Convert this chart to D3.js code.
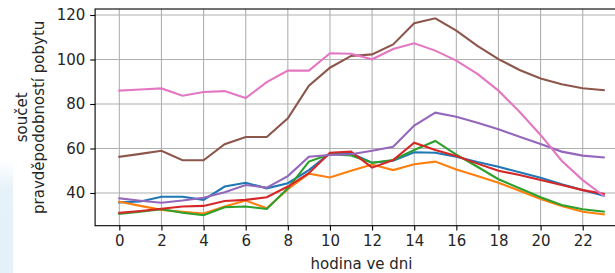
<!DOCTYPE html>
<html>
<head>
<meta charset="utf-8">
<script src="https://d3js.org/d3.v7.min.js"></script>
<style>
  body { margin: 0; background: #fff; }
  svg { display: block; font-family: "DejaVu Sans", sans-serif; }
</style>
</head>
<body>
<svg id="chart" width="615" height="273"></svg>
<script>
// hours of the day
var hours = d3.range(0, 24);
var xTicks = [0, 2, 4, 6, 8, 10, 12, 14, 16, 18, 20, 22];
var yTicks = [40, 60, 80, 100, 120];

// series values (one per hour)
var blue   = [35.8, 36.2, 38.3, 38.3, 36.9, 42.9, 44.6, 42.1, 44.4, 50.3, 57.8, 57.8, 53.6, 54.5, 58.3, 58.1, 56.3, 53.9, 51.8, 49.3, 46.9, 43.9, 41.3, 38.8];
var orange = [36.1, 34.2, 32.4, 31.6, 30.8, 33.9, 36.6, 33.1, 41.7, 48.7, 47.0, 50.0, 52.8, 50.3, 52.9, 54.1, 50.6, 47.6, 44.6, 41.0, 37.3, 34.2, 31.6, 30.4];
var green  = [30.6, 31.6, 32.7, 31.1, 30.0, 33.6, 33.9, 32.8, 42.1, 54.1, 57.4, 56.9, 53.6, 54.8, 59.3, 63.4, 57.2, 51.8, 46.2, 42.1, 38.1, 34.6, 32.7, 31.6];
var red    = [31.1, 31.9, 32.9, 33.9, 34.2, 36.4, 36.9, 38.1, 42.9, 48.9, 58.1, 58.6, 51.4, 54.8, 62.6, 59.3, 56.6, 53.2, 50.0, 48.1, 45.8, 43.6, 41.3, 39.6];
var purple = [37.6, 36.5, 35.6, 36.6, 37.9, 40.3, 43.6, 42.4, 47.6, 56.3, 57.1, 57.4, 59.0, 60.8, 70.3, 76.1, 74.3, 71.6, 68.6, 65.3, 62.0, 58.6, 56.8, 56.0];
var brown  = [56.3, 57.6, 59.0, 54.7, 54.7, 61.9, 65.2, 65.2, 73.6, 88.2, 96.3, 101.6, 102.3, 106.8, 116.3, 118.5, 113.0, 106.1, 100.2, 95.3, 91.5, 88.9, 87.1, 86.2];
var pink   = [86.0, 86.5, 87.0, 83.7, 85.4, 85.8, 82.7, 89.8, 95.0, 95.0, 102.8, 102.6, 100.1, 104.7, 107.3, 104.0, 99.5, 93.5, 86.0, 76.5, 66.1, 54.5, 45.8, 38.7];

var seriesList = [blue, orange, green, red, purple, brown, pink];
var colors = ["#1f77b4", "#ff7f0e", "#2ca02c", "#d62728", "#9467bd", "#8c564b", "#e377c2"];

var svg = d3.select("#chart");
var fontSize = "15px";

// faint blue patch at the left edge of the picture
var defs = svg.append("defs");
var grad = defs.append("linearGradient").attr("id", "edgeGlow")
  .attr("x1", 0).attr("y1", 0).attr("x2", 0).attr("y2", 1);
grad.append("stop").attr("offset", "0%").attr("stop-color", "#eaf4fa").attr("stop-opacity", 0);
grad.append("stop").attr("offset", "25%").attr("stop-color", "#e6f2f9").attr("stop-opacity", 1);
grad.append("stop").attr("offset", "100%").attr("stop-color", "#e4f1f8").attr("stop-opacity", 1);
svg.append("rect").attr("x", 0).attr("y", 160).attr("width", 13).attr("height", 113)
  .attr("fill", "url(#edgeGlow)");

// plot area (right edge is cut off by the picture)
var plotLeft = 95.1, plotRight = 628, plotTop = 9, plotBottom = 225.7;

var x = d3.scaleLinear().domain([-1.15, 24.15]).range([plotLeft, plotRight]);
var y = d3.scaleLinear().domain([25.3, 122.7]).range([plotBottom, plotTop]);

// grid
var grid = svg.append("g");
grid.selectAll(".gx").data(xTicks).join("line")
  .attr("x1", d => x(d)).attr("x2", d => x(d))
  .attr("y1", plotTop).attr("y2", plotBottom)
  .attr("stroke", "#b0b0b0").attr("stroke-width", 1.1);
grid.selectAll(".gy").data(yTicks).join("line")
  .attr("x1", plotLeft).attr("x2", plotRight)
  .attr("y1", d => y(d)).attr("y2", d => y(d))
  .attr("stroke", "#b0b0b0").attr("stroke-width", 1.1);

// lines
var line = d3.line().x((d, i) => x(hours[i])).y(d => y(d));
svg.append("g").selectAll("path").data(seriesList).join("path")
  .attr("d", d => line(d))
  .attr("fill", "none")
  .attr("stroke", (d, i) => colors[i])
  .attr("stroke-width", 2.1)
  .attr("stroke-linejoin", "miter")
  .attr("stroke-linecap", "square");

// spines
svg.append("rect")
  .attr("x", plotLeft).attr("y", plotTop)
  .attr("width", plotRight - plotLeft).attr("height", plotBottom - plotTop)
  .attr("fill", "none").attr("stroke", "#000").attr("stroke-width", 1.1);

// axes
var xAxis = d3.axisBottom(x).tickValues(xTicks).tickSize(4.9).tickPadding(4.9).tickFormat(d3.format("d"));
var yAxis = d3.axisLeft(y).tickValues(yTicks).tickSize(4.9).tickPadding(4.9).tickFormat(d3.format("d"));

var gx = svg.append("g").attr("transform", "translate(0," + plotBottom + ")").call(xAxis);
var gy = svg.append("g").attr("transform", "translate(" + plotLeft + ",0)").call(yAxis);
[gx, gy].forEach(g => {
  g.select(".domain").remove();
  g.selectAll(".tick line").attr("stroke", "#000").attr("stroke-width", 1.1);
  g.selectAll(".tick text").attr("fill", "#262626")
    .style("font-family", "DejaVu Sans").style("font-size", fontSize);
});

// axis labels
svg.append("text")
  .attr("x", (plotLeft + plotRight) / 2).attr("y", 269)
  .attr("text-anchor", "middle")
  .style("font-size", fontSize).attr("fill", "#262626")
  .text("hodina ve dni");

var ylab = svg.append("text")
  .attr("transform", "translate(27," + ((plotTop + plotBottom) / 2) + ") rotate(-90)")
  .attr("text-anchor", "middle")
  .style("font-size", fontSize).attr("fill", "#262626");
ylab.append("tspan").attr("x", 0).attr("dy", 0).text("součet");
ylab.append("tspan").attr("x", 0).attr("dy", 16.5).text("pravděpodobností pobytu");
</script>
</body>
</html>
